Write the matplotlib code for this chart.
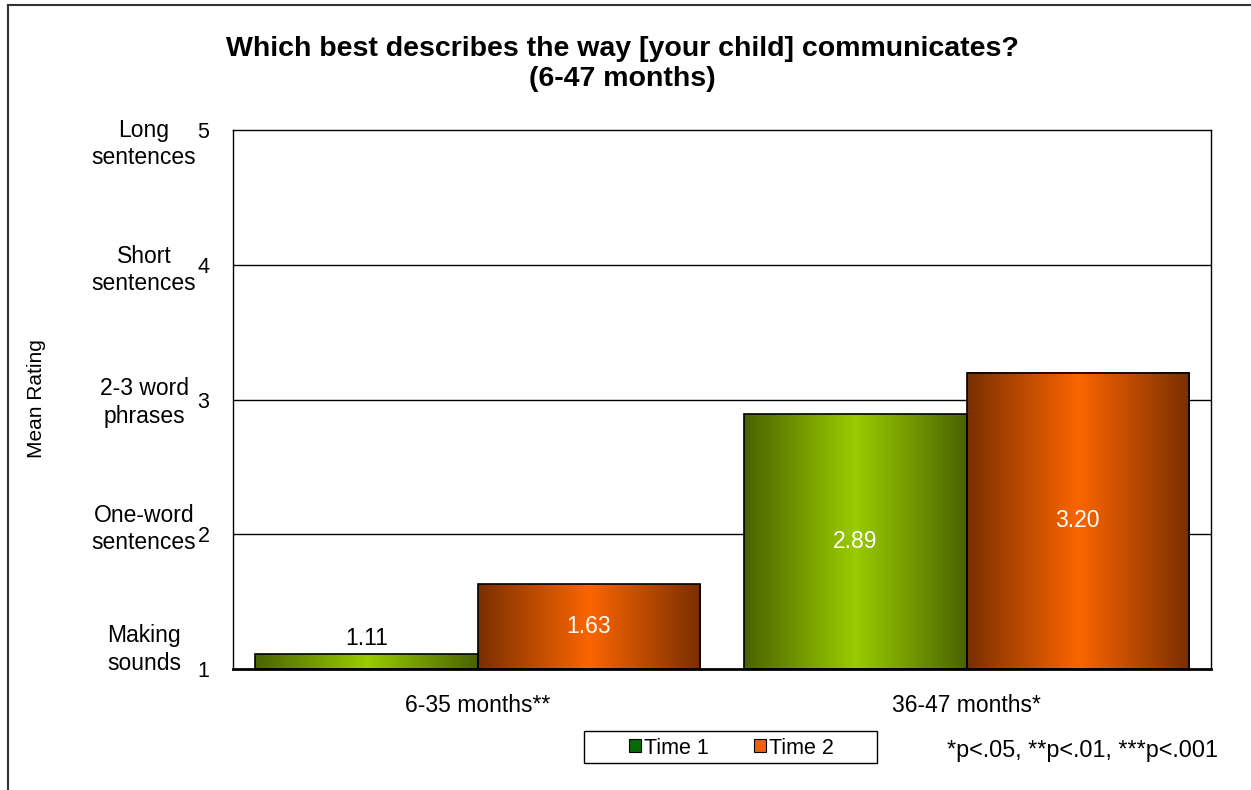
import numpy as np
import matplotlib
matplotlib.use("Agg")
import matplotlib.pyplot as plt
import matplotlib.transforms as mtransforms
from matplotlib.colors import LinearSegmentedColormap
from matplotlib.patches import Patch, Rectangle
from matplotlib.lines import Line2D

plt.rcParams['font.family'] = ['Liberation Sans', 'DejaVu Sans']

# ---- data ----
categories = ["6-35 months**", "36-47 months*"]
series_names = ["Time 1", "Time 2"]
time1 = [1.11, 2.89]
time2 = [1.63, 3.20]
y_ticks = [1, 2, 3, 4, 5]
y_tick_words = ["Making\nsounds", "One-word\nsentences", "2-3 word\nphrases",
                "Short\nsentences", "Long\nsentences"]
title = "Which best describes the way [your child] communicates?\n(6-47 months)"
ylabel = "Mean Rating"
sig_note = "*p<.05, **p<.01, ***p<.001"

# ---- style ----
green_cmap = LinearSegmentedColormap.from_list("g", ["#4a6300", "#99cc00", "#4a6300"])
orange_cmap = LinearSegmentedColormap.from_list("o", ["#7a2f00", "#fb6500", "#7a2f00"])
legend_colors = ["#0a6a0a", "#f06010"]

W, H = 1251, 790
fig = plt.figure(figsize=(W / 100, H / 100), dpi=100)
ax = fig.add_axes([233 / W, 1 - 669 / H, (1211 - 233) / W, (669 - 130) / H])

x = np.arange(len(categories))
bw = 0.454
grad = np.linspace(0, 1, 256).reshape(1, -1)

for vals, off, cmap in [(time1, -bw / 2, green_cmap), (time2, bw / 2, orange_cmap)]:
    bars = ax.bar(x + off, np.array(vals) - 1, bw, bottom=1, facecolor="none",
                  edgecolor="black", linewidth=1.2, zorder=3)
    for b in bars:
        x0, y0 = b.get_x(), b.get_y()
        w, h = b.get_width(), b.get_height()
        ax.imshow(grad, cmap=cmap, aspect="auto", extent=[x0, x0 + w, y0, y0 + h],
                  zorder=2.5, interpolation="bilinear")

VAL_FS = 16.5
for i, v in enumerate(time1):
    if v - 1 < 0.4:
        ax.text(x[i] - bw / 2, v + 0.03, f"{v:.2f}", ha="center", va="bottom",
                fontsize=VAL_FS, color="black", zorder=5)
    else:
        ax.text(x[i] - bw / 2, (1 + v) / 2, f"{v:.2f}", ha="center", va="center",
                fontsize=VAL_FS, color="white", zorder=5)
for i, v in enumerate(time2):
    ax.text(x[i] + bw / 2, (1 + v) / 2, f"{v:.2f}", ha="center", va="center",
            fontsize=VAL_FS, color="white", zorder=5)

ax.set_xlim(-0.5, len(categories) - 0.5)
ax.set_ylim(1, 5)
ax.set_xticks(x)
ax.set_xticklabels(categories, fontsize=16.5)
ax.set_yticks(y_ticks)
ax.set_yticklabels([str(t) for t in y_ticks], fontsize=15.5)
ax.tick_params(axis="y", length=0, pad=17)
ax.tick_params(axis="x", length=0, pad=18)
for t in y_ticks[1:-1]:
    ax.axhline(t, color="black", linewidth=1.0, zorder=1)
for s in ax.spines.values():
    s.set_color("black")
    s.set_linewidth(1.0)
ax.spines["bottom"].set_linewidth(2.0)
ax.spines["bottom"].set_zorder(4)

# word labels for rating scale
word_offsets = [0.145, 0.037, -0.022, -0.041, -0.104]
blend = mtransforms.blended_transform_factory(fig.transFigure, ax.transData)
for t, word, o in zip(y_ticks, y_tick_words, word_offsets):
    ax.text(144 / W, t + o, word, transform=blend, ha="center", va="center",
            multialignment="center", fontsize=16.5, linespacing=1.24)

fig.text(37 / W, 1 - 399 / H, ylabel, rotation=90, ha="center", va="center", fontsize=15)
fig.text(622 / W, 1 - 64 / H, title, ha="center", va="center", fontsize=20.5,
         fontweight="bold", linespacing=1.15)

handles = [Patch(facecolor=c, edgecolor="black", linewidth=0.8) for c in legend_colors]
leg = fig.legend(handles, series_names, loc="center", bbox_to_anchor=(731.5 / W, 1 - 748 / H),
                 ncol=2, fontsize=15.5, frameon=False,
                 handlelength=0.55, handleheight=0.55, handletextpad=0.15, columnspacing=2.1,
                 borderpad=0.3)
fig.add_artist(Rectangle((584 / W, 1 - 763 / H), (877 - 584) / W, 32 / H,
                         transform=fig.transFigure, facecolor="none", edgecolor="black",
                         linewidth=1.0))

fig.text(1218 / W, 1 - 750 / H, sig_note, ha="right", va="center", fontsize=16.8)

# outer frame
fig.add_artist(Line2D([8 / W, 8 / W], [0, 1 - 5 / H], transform=fig.transFigure, color="#333333", linewidth=1.5))
fig.add_artist(Line2D([8 / W, 1], [1 - 5 / H, 1 - 5 / H], transform=fig.transFigure, color="#333333", linewidth=1.5))

fig.savefig("out.png", dpi=100)
